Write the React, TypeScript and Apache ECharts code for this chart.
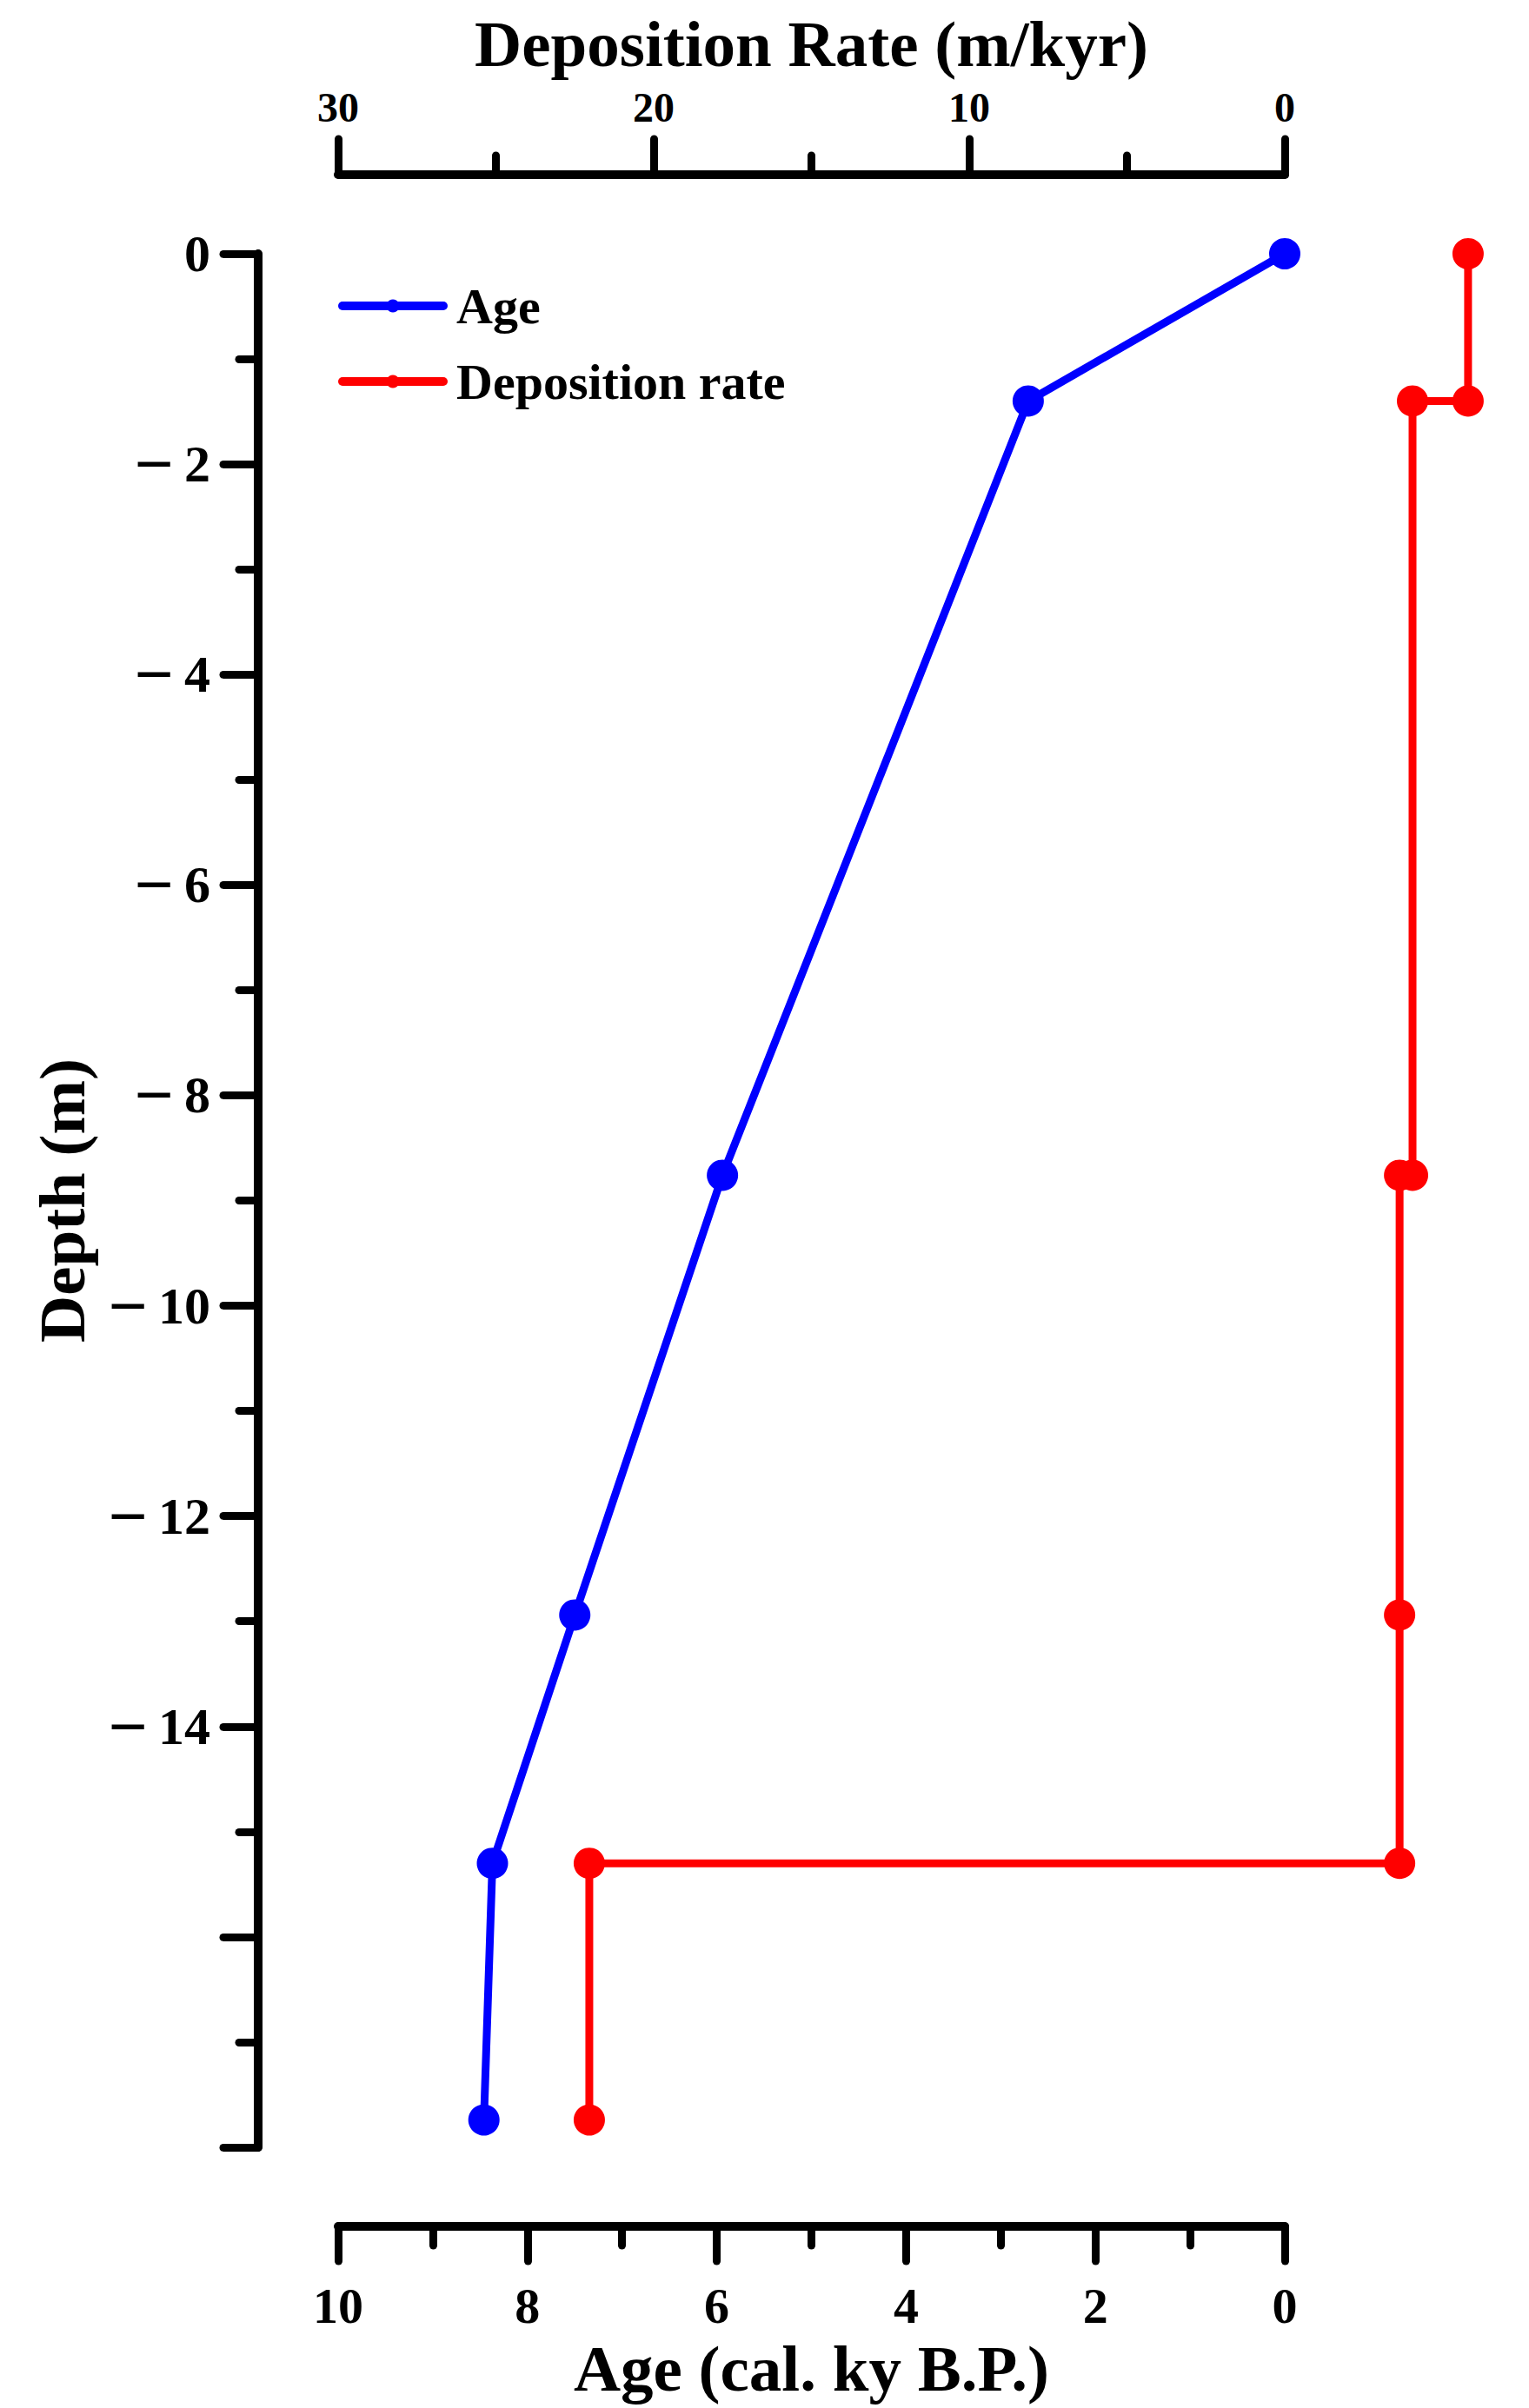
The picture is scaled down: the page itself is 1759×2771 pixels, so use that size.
import React, { useEffect, useRef } from "react";
import * as echarts from "echarts";

// Age–depth model (bottom axis, ky B.P.)
const ageValues = [0, 2.71, 5.94, 7.5, 8.37, 8.46];
const ageDepths = [0, -1.4, -8.76, -12.94, -15.3, -17.74];

// Deposition rate (top axis, m/kyr) – step profile as drawn
const rateValues = [-5.81, -5.81, -4.05, -4.05, -3.64, -3.64, -3.64, 22.04, 22.04];
const rateDepths = [0, -1.4, -1.4, -8.76, -8.76, -12.94, -15.3, -15.3, -17.74];

const seriesNames = ["Age", "Deposition rate"];
const seriesColors = ["#0000ff", "#ff0000"];

const FONT = "'Liberation Serif', 'Times New Roman', serif";

// plot geometry
const W = 1759;
const H = 2771;
const X_LEFT = 389; // age 10 / rate 30
const X_ZERO = 1478; // age 0 / rate 0
const Y_TOP = 292; // depth 0
const Y_BOTTOM = 2471; // depth -18
const AGE_PX = (X_ZERO - X_LEFT) / 10;
const DATA_RIGHT = X_ZERO + 2 * AGE_PX; // extends to age -2 / rate -6

export default function App() {
  const ref = useRef<HTMLDivElement>(null);

  useEffect(() => {
    if (!ref.current) return;
    const chart = echarts.init(ref.current, null, { renderer: "svg" });

    const axisLine = { show: true, onZero: false, lineStyle: { color: "#000", width: 10, cap: "round" } };
    const tick = (len: number) => ({ show: true, inside: false, length: len, lineStyle: { color: "#000", width: 9, cap: "round" } });
    const minor = (len: number) => ({ show: true, splitNumber: 2, length: len, lineStyle: { color: "#000", width: 9, cap: "round" } });
    const hidden = {
      show: false,
      axisLine: { show: false },
      axisTick: { show: false },
      axisLabel: { show: false },
      splitLine: { show: false },
    };

    const option: any = {
      animation: false,
      backgroundColor: "#fff",
      grid: [
        {
          left: X_LEFT,
          right: W - X_ZERO,
          top: Y_TOP,
          bottom: H - Y_BOTTOM,
          containLabel: false,
          outerBoundsMode: "none",
        },
        {
          left: X_LEFT,
          right: W - DATA_RIGHT,
          top: Y_TOP,
          bottom: H - Y_BOTTOM,
          containLabel: false,
          outerBoundsMode: "none",
        },
      ],
      legend: {
        orient: "vertical",
        left: 384,
        top: 318,
        itemWidth: 116,
        itemHeight: 19,
        itemGap: 29,
        data: seriesNames,
        textStyle: {
          fontFamily: FONT,
          fontWeight: "bold",
          fontSize: 58,
          lineHeight: 58,
          color: "#000",
          padding: [0, 0, 0, 10],
        },
        lineStyle: { width: 10, cap: "round" },
      },
      xAxis: [
        {
          gridIndex: 0,
          type: "value",
          position: "bottom",
          offset: 91,
          inverse: true,
          min: 0,
          max: 10,
          interval: 2,
          name: "Age (cal. ky B.P.)",
          nameLocation: "middle",
          nameGap: 126,
          nameTextStyle: { fontFamily: FONT, fontWeight: "bold", fontSize: 75, color: "#000" },
          axisLine,
          axisTick: tick(40),
          minorTick: minor(22),
          splitLine: { show: false },
          minorSplitLine: { show: false },
          axisLabel: { fontFamily: FONT, fontWeight: "bold", fontSize: 58, color: "#000", margin: 62 },
        },
        {
          gridIndex: 0,
          type: "value",
          position: "top",
          offset: 91,
          inverse: true,
          min: 0,
          max: 30,
          interval: 10,
          name: "Deposition Rate (m/kyr)",
          nameLocation: "middle",
          nameGap: 113,
          nameTextStyle: { fontFamily: FONT, fontWeight: "bold", fontSize: 75, color: "#000" },
          axisLine,
          axisTick: tick(41),
          minorTick: minor(22),
          splitLine: { show: false },
          minorSplitLine: { show: false },
          axisLabel: { fontFamily: FONT, fontWeight: "bold", fontSize: 48, color: "#000", margin: 54 },
        },
        // hidden data axes (same scale, extended to the right)
        { gridIndex: 1, type: "value", position: "bottom", inverse: true, min: -2, max: 10, ...hidden },
        { gridIndex: 1, type: "value", position: "top", inverse: true, min: -6, max: 30, ...hidden },
      ],
      yAxis: [
        {
          gridIndex: 0,
          type: "value",
          position: "left",
          offset: 92,
          min: -18,
          max: 0,
          interval: 2,
          name: "Depth (m)",
          nameLocation: "middle",
          nameGap: 188,
          nameRotate: 90,
          nameTextStyle: { fontFamily: FONT, fontWeight: "bold", fontSize: 75, color: "#000" },
          axisLine,
          axisTick: tick(40),
          minorTick: minor(22),
          splitLine: { show: false },
          minorSplitLine: { show: false },
          axisLabel: {
            fontFamily: FONT,
            fontWeight: "bold",
            fontSize: 60,
            color: "#000",
            margin: 55,
            formatter: (v: number) =>
              v < -14 ? "" : v < 0 ? "{m|\u2212}{s|\u2009}{d|" + Math.abs(v) + "}" : "{d|" + v + "}",
            rich: {
              m: { fontFamily: FONT, fontWeight: "bold", fontSize: 80, color: "#000" },
              s: { fontFamily: FONT, fontSize: 60 },
              d: { fontFamily: FONT, fontWeight: "bold", fontSize: 60, color: "#000" },
            },
          },
        },
        { gridIndex: 1, type: "value", min: -18, max: 0, ...hidden },
      ],
      series: [
        {
          name: seriesNames[0],
          type: "line",
          xAxisIndex: 2,
          yAxisIndex: 1,
          symbol: "circle",
          symbolSize: 36,
          showAllSymbol: true,
          color: seriesColors[0],
          lineStyle: { width: 9, color: seriesColors[0] },
          itemStyle: { color: seriesColors[0] },
          data: ageValues.map((a, i) => [a, ageDepths[i]]),
        },
        {
          name: seriesNames[1],
          type: "line",
          xAxisIndex: 3,
          yAxisIndex: 1,
          symbol: "circle",
          symbolSize: 36,
          showAllSymbol: true,
          color: seriesColors[1],
          lineStyle: { width: 9, color: seriesColors[1] },
          itemStyle: { color: seriesColors[1] },
          data: rateValues.map((r, i) => [r, rateDepths[i]]),
        },
      ],
    };

    chart.setOption(option);
    return () => chart.dispose();
  }, []);

  return (
    <div
      ref={ref}
      style={{ position: "absolute", left: 0, top: 0, width: W, height: H, background: "#fff" }}
    />
  );
}
